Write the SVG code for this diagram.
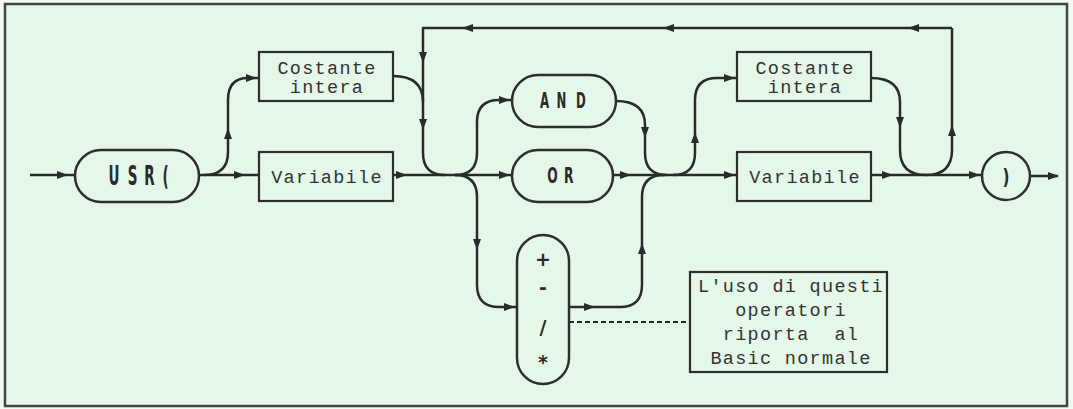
<svg xmlns="http://www.w3.org/2000/svg" xmlns:xlink="http://www.w3.org/1999/xlink" width="1073" height="409" viewBox="0 0 1073 409">
<style>
.frame{fill:#e5f7e8;stroke:#444;stroke-width:2.5}
.box{fill:#e5f7e8;stroke:#2e2e2e;stroke-width:2.2}
.pill{fill:#e5f7e8;stroke:#2e2e2e;stroke-width:2.5}
.ln{fill:none;stroke:#2a2a2a;stroke-width:2.5;stroke-linejoin:round}
.dash{fill:none;stroke:#2a2a2a;stroke-width:2;stroke-dasharray:5 3}
.mono{font-family:"Liberation Mono","DejaVu Sans Mono",monospace;font-size:18.5px;letter-spacing:1.3px;fill:#333;text-anchor:middle}
.kw{font-family:"DejaVu Sans","Liberation Sans",sans-serif;font-weight:bold;fill:#2a2a2a;text-anchor:middle}
.ah{fill:#2a2a2a}
</style>
<defs>
<path id="a" class="ah" d="M5,0 L-6,-4 L-6,4 Z"/>
</defs>
<rect width="1073" height="409" fill="#f0faf2"/>
<rect class="frame" x="5" y="4" width="1062" height="402"/>

<g id="connectors">
<path class="ln" d="M30,175 H75"/>
<path class="ln" d="M199,175 H259"/>
<path class="ln" d="M204,175 Q228,175 228,152 V100 Q228,78 248,78 H259"/>
<path class="ln" d="M393,76 Q423,76 423,102"/>
<path class="ln" d="M952,28 H423 V153 Q423,175 445,175"/>
<path class="ln" d="M393,175 H512"/>
<path class="ln" d="M455,175 Q477,175 477,153 V122 Q477,100 499,100 H512"/>
<path class="ln" d="M455,175 Q477,175 477,197 V285 Q477,307 499,307 H517"/>
<path class="ln" d="M616,101 Q645,101 645,125 V153 Q645,175 667,175"/>
<path class="ln" d="M613,175 H737"/>
<path class="ln" d="M569,307 H620 Q642,307 642,285 V197 Q642,175 664,175"/>
<path class="ln" d="M673,175 Q695,175 695,153 V100 Q695,78 717,78 H737"/>
<path class="ln" d="M871,175 H982"/>
<path class="ln" d="M871,78 Q900,78 900,102 V150 Q900,175 926,175 Q952,175 952,150 V28"/>
<path class="ln" d="M1030,176 H1058"/>
<path class="dash" d="M569,322 H690"/>
<use xlink:href="#a" transform="translate(63,175)"/>
<use xlink:href="#a" transform="translate(240,175)"/>
<use xlink:href="#a" transform="translate(228,133) rotate(-90)"/>
<use xlink:href="#a" transform="translate(252,78)"/>
<use xlink:href="#a" transform="translate(423,58) rotate(90)"/>
<use xlink:href="#a" transform="translate(423,125) rotate(90)"/>
<use xlink:href="#a" transform="translate(467,28) rotate(180)"/>
<use xlink:href="#a" transform="translate(668,28) rotate(180)"/>
<use xlink:href="#a" transform="translate(913,28) rotate(180)"/>
<use xlink:href="#a" transform="translate(402,175)"/>
<use xlink:href="#a" transform="translate(505,175)"/>
<use xlink:href="#a" transform="translate(505,100)"/>
<use xlink:href="#a" transform="translate(477,245) rotate(90)"/>
<use xlink:href="#a" transform="translate(510,307)"/>
<use xlink:href="#a" transform="translate(645,133) rotate(90)"/>
<use xlink:href="#a" transform="translate(626,175)"/>
<use xlink:href="#a" transform="translate(730,175)"/>
<use xlink:href="#a" transform="translate(590,307)"/>
<use xlink:href="#a" transform="translate(642,248) rotate(-90)"/>
<use xlink:href="#a" transform="translate(695,137) rotate(-90)"/>
<use xlink:href="#a" transform="translate(730,78)"/>
<use xlink:href="#a" transform="translate(888,175)"/>
<use xlink:href="#a" transform="translate(975,175)"/>
<use xlink:href="#a" transform="translate(900,123) rotate(90)"/>
<use xlink:href="#a" transform="translate(952,130) rotate(-90)"/>
<use xlink:href="#a" transform="translate(1054,176)"/>
</g>

<g id="usr">
<rect class="pill" x="75" y="150" width="124" height="52" rx="26"/>
<text class="kw" font-size="27" transform="translate(139,185) scale(0.5,1)" x="-50 -13 21 53" y="0">USR(</text>
</g>
<g id="costante1">
<rect class="box" x="259" y="52" width="134" height="49"/>
<text class="mono" x="327" y="74">Costante</text>
<text class="mono" x="327" y="93">intera</text>
</g>
<g id="variabile1">
<rect class="box" x="259" y="152" width="134" height="49"/>
<text class="mono" x="327" y="183">Variabile</text>
</g>
<g id="and">
<rect class="pill" x="512" y="75" width="104" height="52" rx="26"/>
<text class="kw" font-size="21" transform="translate(563,108) scale(0.56,1)" x="-33 -2.7 32" y="0">AND</text>
</g>
<g id="or">
<rect class="pill" x="512" y="150" width="101" height="52" rx="26"/>
<text class="kw" font-size="22" transform="translate(561,183) scale(0.56,1)" x="-15 14" y="0">OR</text>
</g>
<g id="ops">
<rect class="pill" x="517" y="235" width="52" height="149" rx="26"/>
<text class="kw" font-size="19" x="543" y="266">+</text>
<text class="kw" font-size="19" x="543" y="294">-</text>
<text class="kw" font-size="19" x="543" y="334">/</text>
<text class="kw" font-size="19" x="543" y="369">*</text>
</g>
<g id="costante2">
<rect class="box" x="737" y="52" width="134" height="49"/>
<text class="mono" x="805" y="74">Costante</text>
<text class="mono" x="805" y="93">intera</text>
</g>
<g id="variabile2">
<rect class="box" x="737" y="152" width="134" height="49"/>
<text class="mono" x="805" y="183">Variabile</text>
</g>
<g id="close">
<circle class="pill" cx="1006" cy="176" r="24"/>
<text class="kw" font-size="22" transform="translate(1006,184) scale(0.7,1)" x="0" y="0">)</text>
</g>
<g id="note">
<rect class="box" x="690" y="272" width="197" height="100"/>
<text class="mono" x="791" y="292">L'uso di questi</text>
<text class="mono" x="791" y="316">operatori</text>
<text class="mono" x="791" y="340" xml:space="preserve">riporta  al</text>
<text class="mono" x="791" y="364">Basic normale</text>
</g>
</svg>
